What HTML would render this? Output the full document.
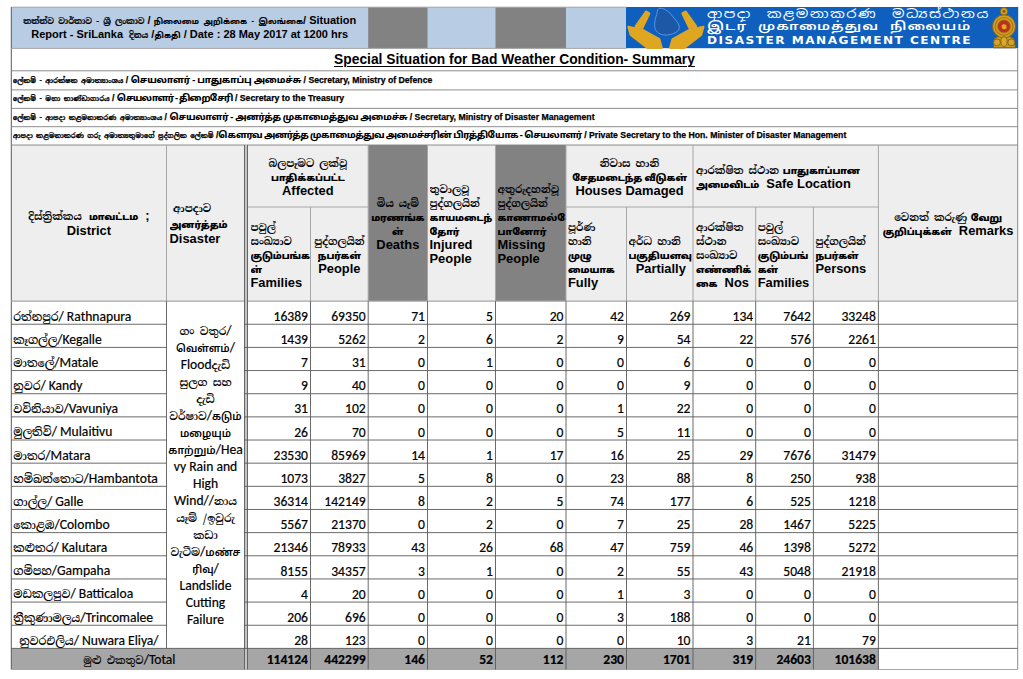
<!DOCTYPE html>
<html lang="si"><head><meta charset="utf-8"><title>Situation Report - SriLanka</title>
<style>
html,body{margin:0;padding:0;background:#fff;}
body{width:1023px;height:679px;position:relative;overflow:hidden;font-family:"Liberation Sans","Noto Sans Tamil","Noto Sans Sinhala",sans-serif;color:#000;}
.c{position:absolute;display:flex;align-items:center;overflow:hidden;box-sizing:border-box;white-space:nowrap;}
.c>div{width:100%;position:relative;}
.ctr{text-align:center;}
.si{font-family:"Noto Serif Sinhala","Noto Sans Sinhala","Liberation Sans",sans-serif;font-weight:400;line-height:0;}
.ta{font-family:"Noto Sans Tamil","Liberation Sans",sans-serif;font-weight:700;line-height:0;}
.blue{font-weight:700;font-size:11px;line-height:13.7px;}
.blue>div{top:0.3px;}
.blue .si{font-size:8.3px;font-weight:700;-webkit-text-stroke:0.2px #000;}
.blue .ta{font-size:7.6px;font-weight:800;word-spacing:2.5px;}
.title{font-weight:700;font-size:13.8px;}
.title u{text-decoration-thickness:1.4px;text-underline-offset:1.5px;}
.sec{font-weight:700;font-size:8.7px;-webkit-text-stroke:0.25px #000;}
.sec>div{top:-0.7px;}
.sec .si{font-size:6.9px;font-weight:700;}
.sec .ta{font-size:9.1px;font-weight:800;-webkit-text-stroke:0;}
.s0 .ta{letter-spacing:-0.2px;}
.s1 .ta{letter-spacing:-0.75px;}
.s2 .ta{letter-spacing:-0.3px;}
.s3 .ta{letter-spacing:-0.55px;}
.hd{font-weight:700;font-size:12.9px;line-height:14px;padding-top:1.6px;}
.lh15{line-height:15.2px;}
.lh15>div{top:-0.6px;}
.hd .si{font-size:10.3px;font-weight:700;}
.hd .ta{font-size:9.3px;font-weight:900;letter-spacing:-0.1px;}
.bd{font-family:"Carlito","Liberation Sans","Noto Sans Sinhala",sans-serif;font-size:13.6px;}
.bd{-webkit-text-stroke:0.2px #000;}
.bd .si{font-family:"Noto Serif Sinhala","Noto Sans Sinhala",sans-serif;font-size:11.1px;font-weight:600;-webkit-text-stroke:0;}
.tot .si{font-size:10.3px;}
.num{text-align:right;-webkit-text-stroke:0.2px #000;}
.num>div{top:3.7px;}
.dist>div{top:3.5px;}
.tot>div{top:0.5px;}
.totn{font-weight:700;}
.totn>div{top:0.5px;}
.dis{position:absolute;text-align:center;font-family:"Carlito","Liberation Sans",sans-serif;font-size:13.6px;line-height:16.98px;-webkit-text-stroke:0.2px #000;white-space:nowrap;overflow:hidden;}
.dis .si{font-family:"Noto Serif Sinhala","Noto Sans Sinhala",sans-serif;font-size:10.8px;font-weight:600;-webkit-text-stroke:0;}
.dis .ta{font-family:"Noto Sans Tamil",sans-serif;font-weight:600;font-size:10.3px;-webkit-text-stroke:0;}
.bn{position:absolute;left:707px;color:#fff;white-space:nowrap;height:14px;line-height:14px;}
.bn{transform-origin:0 50%;}
.b1{top:6.5px;font-family:"Noto Sans Sinhala","Liberation Sans",sans-serif;font-weight:400;font-size:12px;letter-spacing:1.2px;word-spacing:5px;transform:scaleX(1.2245);}
.b2{top:19.8px;font-family:"Noto Sans Tamil","Liberation Sans",sans-serif;font-weight:600;font-size:11.5px;letter-spacing:0.8px;word-spacing:5px;transform:scaleX(1.248);}
.b3{top:34.2px;font-family:"DejaVu Sans","Liberation Sans",sans-serif;font-weight:700;font-size:9.8px;letter-spacing:1.2px;transform:scaleX(1.235);}
</style></head>
<body>
<svg style="position:absolute;left:0;top:0" width="1023" height="679" viewBox="0 0 1023 679">
<rect x="11.30" y="7.20" width="615.20" height="41.20" fill="#b8cce4"/>
<rect x="368.20" y="7.20" width="59.30" height="41.20" fill="#828282"/>
<rect x="495.50" y="7.20" width="70.50" height="41.20" fill="#828282"/>
<rect x="626.00" y="7.00" width="392.20" height="41.20" fill="#0f5fbe"/>
<rect x="11.30" y="145.00" width="1006.40" height="156.10" fill="#eeeeee"/>
<rect x="368.20" y="145.00" width="59.30" height="156.10" fill="#828282"/>
<rect x="495.50" y="145.00" width="70.50" height="156.10" fill="#828282"/>
<rect x="11.30" y="648.40" width="867.10" height="21.10" fill="#a6a6a6"/>
<line x1="11.30" y1="7.20" x2="626.50" y2="7.20" stroke="#a6a6a6" stroke-width="1.00"/>
<line x1="11.30" y1="7.20" x2="11.30" y2="669.50" stroke="#5a5a5a" stroke-width="1.00"/>
<line x1="1017.70" y1="48.40" x2="1017.70" y2="669.50" stroke="#8c8c8c" stroke-width="1.00"/>
<line x1="11.30" y1="669.50" x2="1017.70" y2="669.50" stroke="#a6a6a6" stroke-width="1.00"/>
<line x1="11.30" y1="48.40" x2="626.50" y2="48.40" stroke="#a6a6a6" stroke-width="1.00"/>
<line x1="11.30" y1="70.80" x2="1017.70" y2="70.80" stroke="#808080" stroke-width="0.90"/>
<line x1="11.30" y1="89.90" x2="1017.70" y2="89.90" stroke="#808080" stroke-width="0.90"/>
<line x1="11.30" y1="108.40" x2="1017.70" y2="108.40" stroke="#808080" stroke-width="0.90"/>
<line x1="11.30" y1="126.70" x2="1017.70" y2="126.70" stroke="#808080" stroke-width="0.90"/>
<line x1="11.30" y1="145.00" x2="1017.70" y2="145.00" stroke="#808080" stroke-width="0.90"/>
<line x1="244.50" y1="207.00" x2="368.20" y2="207.00" stroke="#a6a6a6" stroke-width="1.00"/>
<line x1="566.00" y1="207.00" x2="878.40" y2="207.00" stroke="#a6a6a6" stroke-width="1.00"/>
<line x1="11.30" y1="301.10" x2="1017.70" y2="301.10" stroke="#a6a6a6" stroke-width="1.20"/>
<line x1="166.50" y1="145.00" x2="166.50" y2="301.10" stroke="#a6a6a6" stroke-width="1.00"/>
<line x1="310.50" y1="207.00" x2="310.50" y2="301.10" stroke="#a6a6a6" stroke-width="1.00"/>
<line x1="427.50" y1="145.00" x2="427.50" y2="301.10" stroke="#a6a6a6" stroke-width="1.00"/>
<line x1="495.50" y1="145.00" x2="495.50" y2="301.10" stroke="#a6a6a6" stroke-width="1.00"/>
<line x1="566.00" y1="145.00" x2="566.00" y2="301.10" stroke="#a6a6a6" stroke-width="1.00"/>
<line x1="693.00" y1="145.00" x2="693.00" y2="301.10" stroke="#a6a6a6" stroke-width="1.00"/>
<line x1="878.40" y1="145.00" x2="878.40" y2="301.10" stroke="#a6a6a6" stroke-width="1.00"/>
<line x1="368.20" y1="145.00" x2="368.20" y2="301.10" stroke="#a6a6a6" stroke-width="1.00"/>
<line x1="626.50" y1="207.00" x2="626.50" y2="301.10" stroke="#a6a6a6" stroke-width="1.00"/>
<line x1="755.70" y1="207.00" x2="755.70" y2="301.10" stroke="#a6a6a6" stroke-width="1.00"/>
<line x1="813.40" y1="207.00" x2="813.40" y2="301.10" stroke="#a6a6a6" stroke-width="1.00"/>
<line x1="166.50" y1="301.10" x2="166.50" y2="648.40" stroke="#5a5a5a" stroke-width="0.90"/>
<line x1="310.50" y1="301.10" x2="310.50" y2="669.50" stroke="#5a5a5a" stroke-width="0.90"/>
<line x1="368.20" y1="301.10" x2="368.20" y2="669.50" stroke="#5a5a5a" stroke-width="0.90"/>
<line x1="427.50" y1="301.10" x2="427.50" y2="669.50" stroke="#5a5a5a" stroke-width="0.90"/>
<line x1="495.50" y1="301.10" x2="495.50" y2="669.50" stroke="#5a5a5a" stroke-width="0.90"/>
<line x1="566.00" y1="301.10" x2="566.00" y2="669.50" stroke="#5a5a5a" stroke-width="0.90"/>
<line x1="626.50" y1="301.10" x2="626.50" y2="669.50" stroke="#5a5a5a" stroke-width="0.90"/>
<line x1="693.00" y1="301.10" x2="693.00" y2="669.50" stroke="#5a5a5a" stroke-width="0.90"/>
<line x1="755.70" y1="301.10" x2="755.70" y2="669.50" stroke="#5a5a5a" stroke-width="0.90"/>
<line x1="813.40" y1="301.10" x2="813.40" y2="669.50" stroke="#5a5a5a" stroke-width="0.90"/>
<line x1="878.40" y1="301.10" x2="878.40" y2="669.50" stroke="#5a5a5a" stroke-width="0.90"/>
<rect x="244.50" y="145.00" width="3.00" height="524.50" fill="#c4c4c4"/>
<line x1="244.50" y1="145.00" x2="244.50" y2="669.50" stroke="#5a5a5a" stroke-width="0.90"/>
<line x1="247.50" y1="145.00" x2="247.50" y2="669.50" stroke="#5a5a5a" stroke-width="0.90"/>
<line x1="11.30" y1="324.25" x2="166.50" y2="324.25" stroke="#5a5a5a" stroke-width="0.90"/>
<line x1="244.50" y1="324.25" x2="1017.70" y2="324.25" stroke="#5a5a5a" stroke-width="0.90"/>
<line x1="11.30" y1="347.41" x2="166.50" y2="347.41" stroke="#5a5a5a" stroke-width="0.90"/>
<line x1="244.50" y1="347.41" x2="1017.70" y2="347.41" stroke="#5a5a5a" stroke-width="0.90"/>
<line x1="11.30" y1="370.56" x2="166.50" y2="370.56" stroke="#5a5a5a" stroke-width="0.90"/>
<line x1="244.50" y1="370.56" x2="1017.70" y2="370.56" stroke="#5a5a5a" stroke-width="0.90"/>
<line x1="11.30" y1="393.71" x2="166.50" y2="393.71" stroke="#5a5a5a" stroke-width="0.90"/>
<line x1="244.50" y1="393.71" x2="1017.70" y2="393.71" stroke="#5a5a5a" stroke-width="0.90"/>
<line x1="11.30" y1="416.87" x2="166.50" y2="416.87" stroke="#5a5a5a" stroke-width="0.90"/>
<line x1="244.50" y1="416.87" x2="1017.70" y2="416.87" stroke="#5a5a5a" stroke-width="0.90"/>
<line x1="11.30" y1="440.02" x2="166.50" y2="440.02" stroke="#5a5a5a" stroke-width="0.90"/>
<line x1="244.50" y1="440.02" x2="1017.70" y2="440.02" stroke="#5a5a5a" stroke-width="0.90"/>
<line x1="11.30" y1="463.17" x2="166.50" y2="463.17" stroke="#5a5a5a" stroke-width="0.90"/>
<line x1="244.50" y1="463.17" x2="1017.70" y2="463.17" stroke="#5a5a5a" stroke-width="0.90"/>
<line x1="11.30" y1="486.33" x2="166.50" y2="486.33" stroke="#5a5a5a" stroke-width="0.90"/>
<line x1="244.50" y1="486.33" x2="1017.70" y2="486.33" stroke="#5a5a5a" stroke-width="0.90"/>
<line x1="11.30" y1="509.48" x2="166.50" y2="509.48" stroke="#5a5a5a" stroke-width="0.90"/>
<line x1="244.50" y1="509.48" x2="1017.70" y2="509.48" stroke="#5a5a5a" stroke-width="0.90"/>
<line x1="11.30" y1="532.63" x2="166.50" y2="532.63" stroke="#5a5a5a" stroke-width="0.90"/>
<line x1="244.50" y1="532.63" x2="1017.70" y2="532.63" stroke="#5a5a5a" stroke-width="0.90"/>
<line x1="11.30" y1="555.79" x2="166.50" y2="555.79" stroke="#5a5a5a" stroke-width="0.90"/>
<line x1="244.50" y1="555.79" x2="1017.70" y2="555.79" stroke="#5a5a5a" stroke-width="0.90"/>
<line x1="11.30" y1="578.94" x2="166.50" y2="578.94" stroke="#5a5a5a" stroke-width="0.90"/>
<line x1="244.50" y1="578.94" x2="1017.70" y2="578.94" stroke="#5a5a5a" stroke-width="0.90"/>
<line x1="11.30" y1="602.09" x2="166.50" y2="602.09" stroke="#5a5a5a" stroke-width="0.90"/>
<line x1="244.50" y1="602.09" x2="1017.70" y2="602.09" stroke="#5a5a5a" stroke-width="0.90"/>
<line x1="11.30" y1="625.25" x2="166.50" y2="625.25" stroke="#5a5a5a" stroke-width="0.90"/>
<line x1="244.50" y1="625.25" x2="1017.70" y2="625.25" stroke="#5a5a5a" stroke-width="0.90"/>
<line x1="11.30" y1="648.40" x2="1017.70" y2="648.40" stroke="#5a5a5a" stroke-width="0.90"/>
</svg>
<svg style="position:absolute;left:622px;top:4px" width="90" height="48" viewBox="0 0 1023 546">
<g fill="#dfa622" stroke="#dfa622" stroke-linejoin="round" stroke-linecap="round">
<path d="M275 92 L305 108 L228 268 L160 255 Z" stroke-width="34"/>
<path d="M72 258 L235 296 L425 400 L452 500 L290 500 L98 352 Z" stroke-width="24"/>
<path d="M722 92 L692 108 L770 268 L838 255 Z" stroke-width="34"/>
<path d="M926 258 L765 296 L575 400 L546 500 L708 500 L900 352 Z" stroke-width="24"/>
</g>
<path d="M418 52 C450 40 500 60 545 105 C590 160 650 220 652 265 C650 310 600 340 520 352 C460 360 400 335 380 290 C360 240 375 170 395 120 C400 90 400 65 418 52 Z" fill="#1c58a6" stroke="#66a6ee" stroke-width="9"/>
</svg>
<svg style="position:absolute;left:975px;top:0px" width="48" height="56" viewBox="0 0 582 679">
<g stroke="#7c5a12" stroke-width="10">
<path d="M222 580 L232 470 L300 430 L404 430 L472 470 L492 580 Z" fill="#c99a20"/>
<circle cx="352" cy="138" r="46" fill="#cfa024"/>
<circle cx="352" cy="320" r="140" fill="#cfa024"/>
<circle cx="352" cy="320" r="108" fill="none" stroke="#a87812" stroke-width="14"/>
<circle cx="352" cy="320" r="80" fill="#b83220" stroke="#b8860b"/>
<circle cx="266" cy="514" r="42" fill="#d4a52a"/>
<circle cx="440" cy="514" r="42" fill="#d4a52a"/>
<ellipse cx="352" cy="505" rx="38" ry="58" fill="#d8a92c"/>
</g>
<path d="M322 305 L348 290 L380 302 L384 342 L358 358 L326 346 Z" fill="#e2a91f"/>
<circle cx="352" cy="138" r="18" fill="#8a5a10"/>
</svg>
<div class="c blue ctr" style="left:11.3px;top:7.2px;width:356.9px;height:41.2px;"><div><span class="si">තත්ත්ව වාර්තාව - ශ්‍රී ලංකාව</span> / <span class="ta">நிலைமை அறிக்கை  -  இலங்கை</span>/ Situation<br>Report - SriLanka&nbsp; <span class="si">දිනය</span> /<span class="ta">திகதி</span> / Date : 28 May 2017 at 1200 hrs</div></div>
<div class="bn b1">ආපදා කළමනාකරණ මධ්‍යස්ථානය</div>
<div class="bn b2">இடர் முகாமைத்துவ நிலையம்</div>
<div class="bn b3">DISASTER MANAGEMENT CENTRE</div>
<div class="c title ctr" style="left:11.3px;top:48.4px;width:1006.4px;height:22.4px;"><div><u>Special Situation for Bad Weather Condition- Summary</u></div></div>
<div class="c sec s0" style="left:12.8px;top:70.8px;width:1004.9px;height:19.1px;"><div><span class="si">ලේකම් - ආරක්ෂක අමාත්‍යාංශය</span> / <span class="ta">செயலாளர் -  பாதுகாப்பு அமைச்சு</span> / Secretary, Ministry of Defence</div></div>
<div class="c sec s1" style="left:12.8px;top:89.9px;width:1004.9px;height:18.5px;"><div><span class="si">ලේකම් - මහා භාණ්ඩාගාරය</span> / <span class="ta">செயலாளர் -  திறைசேரி</span> / Secretary to the Treasury</div></div>
<div class="c sec s2" style="left:12.8px;top:108.4px;width:1004.9px;height:18.3px;"><div><span class="si">ලේකම් - ආපදා කළමනාකරණ අමාත්‍යාංශය</span> / <span class="ta">செயலாளர் -  அனர்த்த முகாமைத்துவ அமைச்சு</span> / Secretary, Ministry of Disaster Management</div></div>
<div class="c sec s3" style="left:12.8px;top:126.7px;width:1004.9px;height:18.3px;"><div><span class="si">ආපදා කළමනාකරණ ගරු අමාත්‍යතුමාගේ පුද්ගලික ලේකම්</span> /<span class="ta">கௌரவ அனர்த்த முகாமைத்துவ அமைச்சரின் பிரத்தியோக - செயலாளர்</span> / Private Secretary to the Hon. Minister of Disaster Management</div></div>
<div class="c hd ctr lh15" style="left:11.3px;top:145.0px;width:155.2px;height:156.1px;"><div><span class="si">දිස්ත්‍රික්කය</span>&nbsp; <span class="ta">மாவட்டம</span>&nbsp; ;<br>District</div></div>
<div class="c hd lh15" style="left:169.5px;top:145.0px;width:75.0px;height:156.1px;"><div>&nbsp;<span class="si">ආපදාව</span><br><span class="ta">அனர்த்தம்</span><br>Disaster</div></div>
<div class="c hd ctr" style="left:247.5px;top:145.0px;width:120.7px;height:62.0px;"><div><span class="si">බලපෑමට ලක්වූ</span><br><span class="ta">பாதிக்கப்பட்ட</span><br>Affected</div></div>
<div class="c hd " style="left:250.5px;top:207.0px;width:60.0px;height:94.1px;"><div><span class="si">පවුල්</span><br><span class="si">සංඛ්‍යාව</span><br><span class="ta">குடும்பங்க</span><br><span class="ta">ள்</span><br>Families</div></div>
<div class="c hd ctr" style="left:310.5px;top:207.0px;width:57.7px;height:94.1px;"><div><span class="si">පුද්ගලයින්</span><br><span class="ta">நபர்கள்</span><br>People</div></div>
<div class="c hd ctr" style="left:368.2px;top:145.0px;width:59.3px;height:156.1px;"><div><span class="si">මිය යෑම්</span><br><span class="ta">மரணங்க</span><br><span class="ta">ள்</span><br>Deaths</div></div>
<div class="c hd " style="left:429.5px;top:145.0px;width:66.0px;height:156.1px;"><div><span class="si">තුවාලවූ</span><br><span class="si">පුද්ගලයින්</span><br><span class="ta">காயமடைந்</span><br><span class="ta">தோர்</span><br>Injured<br>People</div></div>
<div class="c hd " style="left:497.5px;top:145.0px;width:68.5px;height:156.1px;"><div><span class="si">අතුරුදහන්වූ</span><br><span class="si">පුද්ගලයින්</span><br><span class="ta">காணாமல்ே</span><br><span class="ta">பானோர்</span><br>Missing<br>People</div></div>
<div class="c hd ctr" style="left:566.0px;top:145.0px;width:127.0px;height:62.0px;"><div><span class="si">නිවාස හානි</span><br><span class="ta">சேதமடைந்த  வீடுகள்</span><br>Houses Damaged</div></div>
<div class="c hd " style="left:568.0px;top:207.0px;width:58.5px;height:94.1px;"><div><span class="si">පූර්ණ</span><br><span class="si">හානි</span><br><span class="ta">முழு</span><br><span class="ta">மையாக</span><br>Fully</div></div>
<div class="c hd " style="left:628.5px;top:207.0px;width:64.5px;height:94.1px;"><div><span class="si">අර්ධ හානි</span><br><span class="ta">பகுதியளவு</span><br>&nbsp;&nbsp;Partially</div></div>
<div class="c hd " style="left:696.0px;top:145.0px;width:182.4px;height:62.0px;"><div><span class="si">ආරක්ෂිත ස්ථාන</span> <span class="ta">பாதுகாப்பான</span><br><span class="ta">அமைவிடம்</span>&nbsp; Safe Location</div></div>
<div class="c hd " style="left:696.0px;top:207.0px;width:59.7px;height:94.1px;"><div><span class="si">ආරක්ෂිත</span><br><span class="si">ස්ථාන</span><br><span class="si">සංඛ්‍යාව</span><br><span class="ta">எண்ணிக்</span><br><span class="ta">கை</span>&nbsp; Nos</div></div>
<div class="c hd " style="left:757.7px;top:207.0px;width:55.7px;height:94.1px;"><div><span class="si">පවුල්</span><br><span class="si">සංඛ්‍යාව</span><br><span class="ta">குடும்பங்</span><br><span class="ta">கள்</span><br>Families</div></div>
<div class="c hd " style="left:815.4px;top:207.0px;width:63.0px;height:94.1px;"><div><span class="si">පුද්ගලයින්</span><br><span class="ta">நபர்கள்</span><br>Persons</div></div>
<div class="c hd ctr" style="left:878.4px;top:145.0px;width:139.3px;height:156.1px;"><div><span class="si">වෙනත් කරුණු</span> <span class="ta">வேறு</span><br><span class="ta">குறிப்புக்கள்</span>&nbsp; Remarks</div></div>
<div class="c bd dist" style="left:13.3px;top:301.1px;width:153.2px;height:23.2px;"><div><span class="si">රත්නපුර</span>/ Rathnapura</div></div>
<div class="c bd num" style="left:247.5px;top:301.1px;width:60.5px;height:23.2px;"><div>16389</div></div>
<div class="c bd num" style="left:310.5px;top:301.1px;width:55.2px;height:23.2px;"><div>69350</div></div>
<div class="c bd num" style="left:368.2px;top:301.1px;width:56.8px;height:23.2px;"><div>71</div></div>
<div class="c bd num" style="left:427.5px;top:301.1px;width:65.5px;height:23.2px;"><div>5</div></div>
<div class="c bd num" style="left:495.5px;top:301.1px;width:68.0px;height:23.2px;"><div>20</div></div>
<div class="c bd num" style="left:566.0px;top:301.1px;width:58.0px;height:23.2px;"><div>42</div></div>
<div class="c bd num" style="left:626.5px;top:301.1px;width:64.0px;height:23.2px;"><div>269</div></div>
<div class="c bd num" style="left:693.0px;top:301.1px;width:60.2px;height:23.2px;"><div>134</div></div>
<div class="c bd num" style="left:755.7px;top:301.1px;width:55.2px;height:23.2px;"><div>7642</div></div>
<div class="c bd num" style="left:813.4px;top:301.1px;width:62.5px;height:23.2px;"><div>33248</div></div>
<div class="c bd dist" style="left:13.3px;top:324.3px;width:153.2px;height:23.2px;"><div><span class="si">කෑගල්ල</span>/Kegalle</div></div>
<div class="c bd num" style="left:247.5px;top:324.3px;width:60.5px;height:23.2px;"><div>1439</div></div>
<div class="c bd num" style="left:310.5px;top:324.3px;width:55.2px;height:23.2px;"><div>5262</div></div>
<div class="c bd num" style="left:368.2px;top:324.3px;width:56.8px;height:23.2px;"><div>2</div></div>
<div class="c bd num" style="left:427.5px;top:324.3px;width:65.5px;height:23.2px;"><div>6</div></div>
<div class="c bd num" style="left:495.5px;top:324.3px;width:68.0px;height:23.2px;"><div>2</div></div>
<div class="c bd num" style="left:566.0px;top:324.3px;width:58.0px;height:23.2px;"><div>9</div></div>
<div class="c bd num" style="left:626.5px;top:324.3px;width:64.0px;height:23.2px;"><div>54</div></div>
<div class="c bd num" style="left:693.0px;top:324.3px;width:60.2px;height:23.2px;"><div>22</div></div>
<div class="c bd num" style="left:755.7px;top:324.3px;width:55.2px;height:23.2px;"><div>576</div></div>
<div class="c bd num" style="left:813.4px;top:324.3px;width:62.5px;height:23.2px;"><div>2261</div></div>
<div class="c bd dist" style="left:13.3px;top:347.4px;width:153.2px;height:23.2px;"><div><span class="si">මාතලේ</span>/Matale</div></div>
<div class="c bd num" style="left:247.5px;top:347.4px;width:60.5px;height:23.2px;"><div>7</div></div>
<div class="c bd num" style="left:310.5px;top:347.4px;width:55.2px;height:23.2px;"><div>31</div></div>
<div class="c bd num" style="left:368.2px;top:347.4px;width:56.8px;height:23.2px;"><div>0</div></div>
<div class="c bd num" style="left:427.5px;top:347.4px;width:65.5px;height:23.2px;"><div>1</div></div>
<div class="c bd num" style="left:495.5px;top:347.4px;width:68.0px;height:23.2px;"><div>0</div></div>
<div class="c bd num" style="left:566.0px;top:347.4px;width:58.0px;height:23.2px;"><div>0</div></div>
<div class="c bd num" style="left:626.5px;top:347.4px;width:64.0px;height:23.2px;"><div>6</div></div>
<div class="c bd num" style="left:693.0px;top:347.4px;width:60.2px;height:23.2px;"><div>0</div></div>
<div class="c bd num" style="left:755.7px;top:347.4px;width:55.2px;height:23.2px;"><div>0</div></div>
<div class="c bd num" style="left:813.4px;top:347.4px;width:62.5px;height:23.2px;"><div>0</div></div>
<div class="c bd dist" style="left:13.3px;top:370.6px;width:153.2px;height:23.2px;"><div><span class="si">නුවර</span>/ Kandy</div></div>
<div class="c bd num" style="left:247.5px;top:370.6px;width:60.5px;height:23.2px;"><div>9</div></div>
<div class="c bd num" style="left:310.5px;top:370.6px;width:55.2px;height:23.2px;"><div>40</div></div>
<div class="c bd num" style="left:368.2px;top:370.6px;width:56.8px;height:23.2px;"><div>0</div></div>
<div class="c bd num" style="left:427.5px;top:370.6px;width:65.5px;height:23.2px;"><div>0</div></div>
<div class="c bd num" style="left:495.5px;top:370.6px;width:68.0px;height:23.2px;"><div>0</div></div>
<div class="c bd num" style="left:566.0px;top:370.6px;width:58.0px;height:23.2px;"><div>0</div></div>
<div class="c bd num" style="left:626.5px;top:370.6px;width:64.0px;height:23.2px;"><div>9</div></div>
<div class="c bd num" style="left:693.0px;top:370.6px;width:60.2px;height:23.2px;"><div>0</div></div>
<div class="c bd num" style="left:755.7px;top:370.6px;width:55.2px;height:23.2px;"><div>0</div></div>
<div class="c bd num" style="left:813.4px;top:370.6px;width:62.5px;height:23.2px;"><div>0</div></div>
<div class="c bd dist" style="left:13.3px;top:393.7px;width:153.2px;height:23.2px;"><div><span class="si">වව්නියාව</span>/Vavuniya</div></div>
<div class="c bd num" style="left:247.5px;top:393.7px;width:60.5px;height:23.2px;"><div>31</div></div>
<div class="c bd num" style="left:310.5px;top:393.7px;width:55.2px;height:23.2px;"><div>102</div></div>
<div class="c bd num" style="left:368.2px;top:393.7px;width:56.8px;height:23.2px;"><div>0</div></div>
<div class="c bd num" style="left:427.5px;top:393.7px;width:65.5px;height:23.2px;"><div>0</div></div>
<div class="c bd num" style="left:495.5px;top:393.7px;width:68.0px;height:23.2px;"><div>0</div></div>
<div class="c bd num" style="left:566.0px;top:393.7px;width:58.0px;height:23.2px;"><div>1</div></div>
<div class="c bd num" style="left:626.5px;top:393.7px;width:64.0px;height:23.2px;"><div>22</div></div>
<div class="c bd num" style="left:693.0px;top:393.7px;width:60.2px;height:23.2px;"><div>0</div></div>
<div class="c bd num" style="left:755.7px;top:393.7px;width:55.2px;height:23.2px;"><div>0</div></div>
<div class="c bd num" style="left:813.4px;top:393.7px;width:62.5px;height:23.2px;"><div>0</div></div>
<div class="c bd dist" style="left:13.3px;top:416.9px;width:153.2px;height:23.2px;"><div><span class="si">මුලතිව්</span>/ Mulaitivu</div></div>
<div class="c bd num" style="left:247.5px;top:416.9px;width:60.5px;height:23.2px;"><div>26</div></div>
<div class="c bd num" style="left:310.5px;top:416.9px;width:55.2px;height:23.2px;"><div>70</div></div>
<div class="c bd num" style="left:368.2px;top:416.9px;width:56.8px;height:23.2px;"><div>0</div></div>
<div class="c bd num" style="left:427.5px;top:416.9px;width:65.5px;height:23.2px;"><div>0</div></div>
<div class="c bd num" style="left:495.5px;top:416.9px;width:68.0px;height:23.2px;"><div>0</div></div>
<div class="c bd num" style="left:566.0px;top:416.9px;width:58.0px;height:23.2px;"><div>5</div></div>
<div class="c bd num" style="left:626.5px;top:416.9px;width:64.0px;height:23.2px;"><div>11</div></div>
<div class="c bd num" style="left:693.0px;top:416.9px;width:60.2px;height:23.2px;"><div>0</div></div>
<div class="c bd num" style="left:755.7px;top:416.9px;width:55.2px;height:23.2px;"><div>0</div></div>
<div class="c bd num" style="left:813.4px;top:416.9px;width:62.5px;height:23.2px;"><div>0</div></div>
<div class="c bd dist" style="left:13.3px;top:440.0px;width:153.2px;height:23.2px;"><div><span class="si">මාතර</span>/Matara</div></div>
<div class="c bd num" style="left:247.5px;top:440.0px;width:60.5px;height:23.2px;"><div>23530</div></div>
<div class="c bd num" style="left:310.5px;top:440.0px;width:55.2px;height:23.2px;"><div>85969</div></div>
<div class="c bd num" style="left:368.2px;top:440.0px;width:56.8px;height:23.2px;"><div>14</div></div>
<div class="c bd num" style="left:427.5px;top:440.0px;width:65.5px;height:23.2px;"><div>1</div></div>
<div class="c bd num" style="left:495.5px;top:440.0px;width:68.0px;height:23.2px;"><div>17</div></div>
<div class="c bd num" style="left:566.0px;top:440.0px;width:58.0px;height:23.2px;"><div>16</div></div>
<div class="c bd num" style="left:626.5px;top:440.0px;width:64.0px;height:23.2px;"><div>25</div></div>
<div class="c bd num" style="left:693.0px;top:440.0px;width:60.2px;height:23.2px;"><div>29</div></div>
<div class="c bd num" style="left:755.7px;top:440.0px;width:55.2px;height:23.2px;"><div>7676</div></div>
<div class="c bd num" style="left:813.4px;top:440.0px;width:62.5px;height:23.2px;"><div>31479</div></div>
<div class="c bd dist" style="left:13.3px;top:463.2px;width:153.2px;height:23.2px;"><div><span class="si">හම්බන්තොට</span>/Hambantota</div></div>
<div class="c bd num" style="left:247.5px;top:463.2px;width:60.5px;height:23.2px;"><div>1073</div></div>
<div class="c bd num" style="left:310.5px;top:463.2px;width:55.2px;height:23.2px;"><div>3827</div></div>
<div class="c bd num" style="left:368.2px;top:463.2px;width:56.8px;height:23.2px;"><div>5</div></div>
<div class="c bd num" style="left:427.5px;top:463.2px;width:65.5px;height:23.2px;"><div>8</div></div>
<div class="c bd num" style="left:495.5px;top:463.2px;width:68.0px;height:23.2px;"><div>0</div></div>
<div class="c bd num" style="left:566.0px;top:463.2px;width:58.0px;height:23.2px;"><div>23</div></div>
<div class="c bd num" style="left:626.5px;top:463.2px;width:64.0px;height:23.2px;"><div>88</div></div>
<div class="c bd num" style="left:693.0px;top:463.2px;width:60.2px;height:23.2px;"><div>8</div></div>
<div class="c bd num" style="left:755.7px;top:463.2px;width:55.2px;height:23.2px;"><div>250</div></div>
<div class="c bd num" style="left:813.4px;top:463.2px;width:62.5px;height:23.2px;"><div>938</div></div>
<div class="c bd dist" style="left:13.3px;top:486.3px;width:153.2px;height:23.2px;"><div><span class="si">ගාල්ල</span>/ Galle</div></div>
<div class="c bd num" style="left:247.5px;top:486.3px;width:60.5px;height:23.2px;"><div>36314</div></div>
<div class="c bd num" style="left:310.5px;top:486.3px;width:55.2px;height:23.2px;"><div>142149</div></div>
<div class="c bd num" style="left:368.2px;top:486.3px;width:56.8px;height:23.2px;"><div>8</div></div>
<div class="c bd num" style="left:427.5px;top:486.3px;width:65.5px;height:23.2px;"><div>2</div></div>
<div class="c bd num" style="left:495.5px;top:486.3px;width:68.0px;height:23.2px;"><div>5</div></div>
<div class="c bd num" style="left:566.0px;top:486.3px;width:58.0px;height:23.2px;"><div>74</div></div>
<div class="c bd num" style="left:626.5px;top:486.3px;width:64.0px;height:23.2px;"><div>177</div></div>
<div class="c bd num" style="left:693.0px;top:486.3px;width:60.2px;height:23.2px;"><div>6</div></div>
<div class="c bd num" style="left:755.7px;top:486.3px;width:55.2px;height:23.2px;"><div>525</div></div>
<div class="c bd num" style="left:813.4px;top:486.3px;width:62.5px;height:23.2px;"><div>1218</div></div>
<div class="c bd dist" style="left:13.3px;top:509.5px;width:153.2px;height:23.2px;"><div><span class="si">කොළඹ</span>/Colombo</div></div>
<div class="c bd num" style="left:247.5px;top:509.5px;width:60.5px;height:23.2px;"><div>5567</div></div>
<div class="c bd num" style="left:310.5px;top:509.5px;width:55.2px;height:23.2px;"><div>21370</div></div>
<div class="c bd num" style="left:368.2px;top:509.5px;width:56.8px;height:23.2px;"><div>0</div></div>
<div class="c bd num" style="left:427.5px;top:509.5px;width:65.5px;height:23.2px;"><div>2</div></div>
<div class="c bd num" style="left:495.5px;top:509.5px;width:68.0px;height:23.2px;"><div>0</div></div>
<div class="c bd num" style="left:566.0px;top:509.5px;width:58.0px;height:23.2px;"><div>7</div></div>
<div class="c bd num" style="left:626.5px;top:509.5px;width:64.0px;height:23.2px;"><div>25</div></div>
<div class="c bd num" style="left:693.0px;top:509.5px;width:60.2px;height:23.2px;"><div>28</div></div>
<div class="c bd num" style="left:755.7px;top:509.5px;width:55.2px;height:23.2px;"><div>1467</div></div>
<div class="c bd num" style="left:813.4px;top:509.5px;width:62.5px;height:23.2px;"><div>5225</div></div>
<div class="c bd dist" style="left:13.3px;top:532.6px;width:153.2px;height:23.2px;"><div><span class="si">කළුතර</span>/ Kalutara</div></div>
<div class="c bd num" style="left:247.5px;top:532.6px;width:60.5px;height:23.2px;"><div>21346</div></div>
<div class="c bd num" style="left:310.5px;top:532.6px;width:55.2px;height:23.2px;"><div>78933</div></div>
<div class="c bd num" style="left:368.2px;top:532.6px;width:56.8px;height:23.2px;"><div>43</div></div>
<div class="c bd num" style="left:427.5px;top:532.6px;width:65.5px;height:23.2px;"><div>26</div></div>
<div class="c bd num" style="left:495.5px;top:532.6px;width:68.0px;height:23.2px;"><div>68</div></div>
<div class="c bd num" style="left:566.0px;top:532.6px;width:58.0px;height:23.2px;"><div>47</div></div>
<div class="c bd num" style="left:626.5px;top:532.6px;width:64.0px;height:23.2px;"><div>759</div></div>
<div class="c bd num" style="left:693.0px;top:532.6px;width:60.2px;height:23.2px;"><div>46</div></div>
<div class="c bd num" style="left:755.7px;top:532.6px;width:55.2px;height:23.2px;"><div>1398</div></div>
<div class="c bd num" style="left:813.4px;top:532.6px;width:62.5px;height:23.2px;"><div>5272</div></div>
<div class="c bd dist" style="left:13.3px;top:555.8px;width:153.2px;height:23.2px;"><div><span class="si">ගම්පහ</span>/Gampaha</div></div>
<div class="c bd num" style="left:247.5px;top:555.8px;width:60.5px;height:23.2px;"><div>8155</div></div>
<div class="c bd num" style="left:310.5px;top:555.8px;width:55.2px;height:23.2px;"><div>34357</div></div>
<div class="c bd num" style="left:368.2px;top:555.8px;width:56.8px;height:23.2px;"><div>3</div></div>
<div class="c bd num" style="left:427.5px;top:555.8px;width:65.5px;height:23.2px;"><div>1</div></div>
<div class="c bd num" style="left:495.5px;top:555.8px;width:68.0px;height:23.2px;"><div>0</div></div>
<div class="c bd num" style="left:566.0px;top:555.8px;width:58.0px;height:23.2px;"><div>2</div></div>
<div class="c bd num" style="left:626.5px;top:555.8px;width:64.0px;height:23.2px;"><div>55</div></div>
<div class="c bd num" style="left:693.0px;top:555.8px;width:60.2px;height:23.2px;"><div>43</div></div>
<div class="c bd num" style="left:755.7px;top:555.8px;width:55.2px;height:23.2px;"><div>5048</div></div>
<div class="c bd num" style="left:813.4px;top:555.8px;width:62.5px;height:23.2px;"><div>21918</div></div>
<div class="c bd dist" style="left:13.3px;top:578.9px;width:153.2px;height:23.2px;"><div><span class="si">මඩකලපුව</span>/ Batticaloa</div></div>
<div class="c bd num" style="left:247.5px;top:578.9px;width:60.5px;height:23.2px;"><div>4</div></div>
<div class="c bd num" style="left:310.5px;top:578.9px;width:55.2px;height:23.2px;"><div>20</div></div>
<div class="c bd num" style="left:368.2px;top:578.9px;width:56.8px;height:23.2px;"><div>0</div></div>
<div class="c bd num" style="left:427.5px;top:578.9px;width:65.5px;height:23.2px;"><div>0</div></div>
<div class="c bd num" style="left:495.5px;top:578.9px;width:68.0px;height:23.2px;"><div>0</div></div>
<div class="c bd num" style="left:566.0px;top:578.9px;width:58.0px;height:23.2px;"><div>1</div></div>
<div class="c bd num" style="left:626.5px;top:578.9px;width:64.0px;height:23.2px;"><div>3</div></div>
<div class="c bd num" style="left:693.0px;top:578.9px;width:60.2px;height:23.2px;"><div>0</div></div>
<div class="c bd num" style="left:755.7px;top:578.9px;width:55.2px;height:23.2px;"><div>0</div></div>
<div class="c bd num" style="left:813.4px;top:578.9px;width:62.5px;height:23.2px;"><div>0</div></div>
<div class="c bd dist" style="left:13.3px;top:602.1px;width:153.2px;height:23.2px;"><div><span class="si">ත්‍රීකුණාමලය</span>/Trincomalee</div></div>
<div class="c bd num" style="left:247.5px;top:602.1px;width:60.5px;height:23.2px;"><div>206</div></div>
<div class="c bd num" style="left:310.5px;top:602.1px;width:55.2px;height:23.2px;"><div>696</div></div>
<div class="c bd num" style="left:368.2px;top:602.1px;width:56.8px;height:23.2px;"><div>0</div></div>
<div class="c bd num" style="left:427.5px;top:602.1px;width:65.5px;height:23.2px;"><div>0</div></div>
<div class="c bd num" style="left:495.5px;top:602.1px;width:68.0px;height:23.2px;"><div>0</div></div>
<div class="c bd num" style="left:566.0px;top:602.1px;width:58.0px;height:23.2px;"><div>3</div></div>
<div class="c bd num" style="left:626.5px;top:602.1px;width:64.0px;height:23.2px;"><div>188</div></div>
<div class="c bd num" style="left:693.0px;top:602.1px;width:60.2px;height:23.2px;"><div>0</div></div>
<div class="c bd num" style="left:755.7px;top:602.1px;width:55.2px;height:23.2px;"><div>0</div></div>
<div class="c bd num" style="left:813.4px;top:602.1px;width:62.5px;height:23.2px;"><div>0</div></div>
<div class="c bd dist ctr" style="left:11.3px;top:625.2px;width:155.2px;height:23.2px;"><div><span class="si">නුවරඑලිය</span>/ Nuwara Eliya/</div></div>
<div class="c bd num" style="left:247.5px;top:625.2px;width:60.5px;height:23.2px;"><div>28</div></div>
<div class="c bd num" style="left:310.5px;top:625.2px;width:55.2px;height:23.2px;"><div>123</div></div>
<div class="c bd num" style="left:368.2px;top:625.2px;width:56.8px;height:23.2px;"><div>0</div></div>
<div class="c bd num" style="left:427.5px;top:625.2px;width:65.5px;height:23.2px;"><div>0</div></div>
<div class="c bd num" style="left:495.5px;top:625.2px;width:68.0px;height:23.2px;"><div>0</div></div>
<div class="c bd num" style="left:566.0px;top:625.2px;width:58.0px;height:23.2px;"><div>0</div></div>
<div class="c bd num" style="left:626.5px;top:625.2px;width:64.0px;height:23.2px;"><div>10</div></div>
<div class="c bd num" style="left:693.0px;top:625.2px;width:60.2px;height:23.2px;"><div>3</div></div>
<div class="c bd num" style="left:755.7px;top:625.2px;width:55.2px;height:23.2px;"><div>21</div></div>
<div class="c bd num" style="left:813.4px;top:625.2px;width:62.5px;height:23.2px;"><div>79</div></div>
<div class="c bd tot ctr" style="left:11.3px;top:648.4px;width:236.2px;height:21.1px;"><div><span class="si">මුළු එකතුව</span>/Total</div></div>
<div class="c bd num totn" style="left:247.5px;top:648.4px;width:60.5px;height:21.1px;"><div>114124</div></div>
<div class="c bd num totn" style="left:310.5px;top:648.4px;width:55.2px;height:21.1px;"><div>442299</div></div>
<div class="c bd num totn" style="left:368.2px;top:648.4px;width:56.8px;height:21.1px;"><div>146</div></div>
<div class="c bd num totn" style="left:427.5px;top:648.4px;width:65.5px;height:21.1px;"><div>52</div></div>
<div class="c bd num totn" style="left:495.5px;top:648.4px;width:68.0px;height:21.1px;"><div>112</div></div>
<div class="c bd num totn" style="left:566.0px;top:648.4px;width:58.0px;height:21.1px;"><div>230</div></div>
<div class="c bd num totn" style="left:626.5px;top:648.4px;width:64.0px;height:21.1px;"><div>1701</div></div>
<div class="c bd num totn" style="left:693.0px;top:648.4px;width:60.2px;height:21.1px;"><div>319</div></div>
<div class="c bd num totn" style="left:755.7px;top:648.4px;width:55.2px;height:21.1px;"><div>24603</div></div>
<div class="c bd num totn" style="left:813.4px;top:648.4px;width:62.5px;height:21.1px;"><div>101638</div></div>
<div class="dis" style="left:166.5px;top:322.3px;width:78.0px;"><div><span class="si">ගං වතුර</span>/</div><div><span class="ta">வெள்ளம்</span>/</div><div>Flood<span class="si">දැඩි</span></div><div><span class="si">සුලග සහ</span></div><div><span class="si">දැඩි</span></div><div><span class="si">වර්ෂාව</span>/<span class="ta">கடும்</span></div><div><span class="ta">மழையும்</span></div><div><span class="ta">காற்றும்</span>/Hea</div><div>vy Rain and</div><div>High</div><div>Wind//<span class="si">නාය</span></div><div><span class="si">යෑම් /ඉවුරු</span></div><div><span class="si">කඩා</span></div><div><span class="si">වැටීම</span>/<span class="ta">மண்ச</span></div><div><span class="ta">ரிவு</span>/</div><div>Landslide</div><div>Cutting</div><div>Failure</div></div>
</body></html>
